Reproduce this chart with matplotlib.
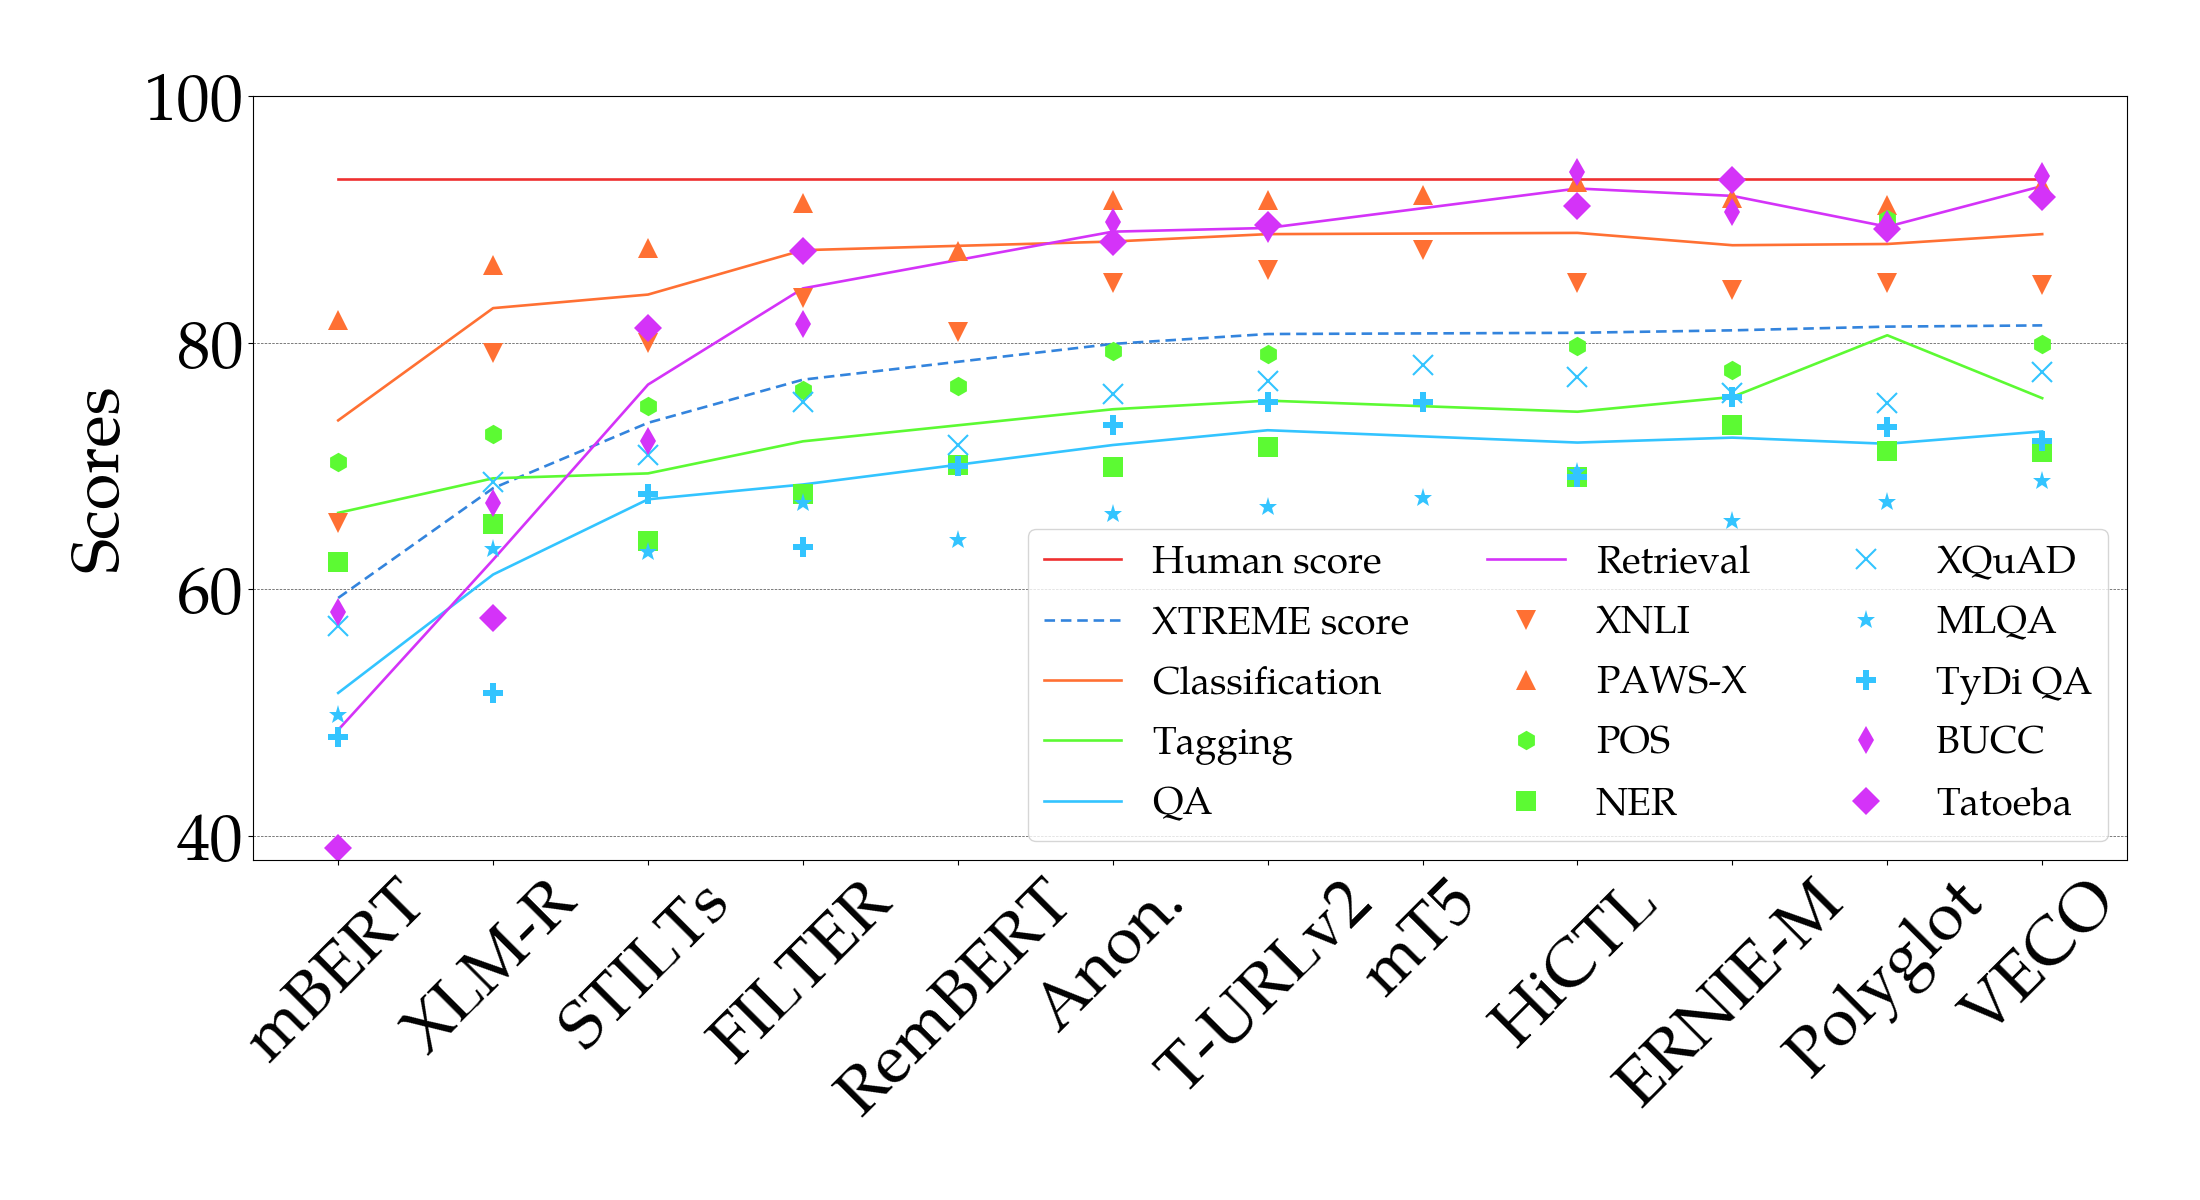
import numpy as np
import matplotlib
matplotlib.use("Agg")
import matplotlib.pyplot as plt
from matplotlib import font_manager

models = ["mBERT", "XLM-R", "STILTs", "FILTER", "RemBERT", "Anon.",
          "T-URLv2", "mT5", "HiCTL", "ERNIE-M", "Polyglot", "VECO"]
nan = np.nan

human_score = 93.3

# category scores (RemBERT and mT5 have no category averages)
xtreme = [59.3, 68.2, 73.5, 77.0, nan, 79.9, 80.7, nan, 80.8, 81.0, 81.3, 81.4]
classification = [73.7, 82.8, 83.9, 87.5, nan, 88.2, 88.8, nan, 88.9, 87.9, 88.0, 88.8]
tagging = [66.2, 69.0, 69.4, 72.0, nan, 74.6, 75.3, nan, 74.4, 75.6, 80.6, 75.5]
qa = [51.6, 61.2, 67.3, 68.5, nan, 71.7, 72.9, nan, 71.9, 72.3, 71.8, 72.8]
retrieval = [48.6, 62.4, 76.6, 84.4, nan, 89.0, 89.3, nan, 92.5, 91.9, 89.4, 92.7]

# task scores
xnli = [65.4, 79.2, 80.0, 83.6, 80.9, 84.8, 85.9, 87.5, 84.8, 84.3, 84.8, 84.7]
pawsx = [81.8, 86.3, 87.7, 91.3, 87.4, 91.6, 91.6, 92.0, 93.0, 91.7, 91.2, 92.8]
pos = [70.3, 72.6, 74.9, 76.2, 76.5, 79.3, 79.1, nan, 79.7, 77.8, 90.0, 79.9]
ner = [62.2, 65.3, 63.9, 67.7, 70.1, 69.9, 71.5, nan, 69.1, 73.3, 71.2, 71.1]
xquad = [57.0, 68.7, 70.9, 75.2, 71.7, 75.8, 76.9, 78.2, 77.2, 75.9, 75.1, 77.6]
mlqa = [49.8, 63.3, 63.0, 67.0, 64.0, 66.1, 66.7, 67.4, 69.5, 65.5, 67.1, 68.8]
tydiqa = [48.0, 51.6, 67.7, 63.4, 70.0, 73.3, 75.2, 75.2, 69.1, 75.6, 73.2, 72.0]
bucc = [58.2, 67.0, 72.0, 81.5, nan, 89.8, 89.2, nan, 93.8, 90.6, 89.6, 93.5]
tatoeba = [39.0, 57.7, 81.2, 87.4, nan, 88.2, 89.5, nan, 91.1, 93.2, 89.2, 91.8]

RED = "#ee3030"
BLUE = "#3384dd"
ORANGE = "#ff7033"
GREEN = "#5cfa33"
CYAN = "#33c4ff"
MAGENTA = "#d433f8"


def pick_serif():
    names = {f.name for f in font_manager.fontManager.ttflist}
    for name in ["TeX Gyre Pagella", "P052", "URW Palladio L", "Palatino Linotype",
                 "Palatino", "Book Antiqua", "Liberation Serif", "DejaVu Serif"]:
        if name in names:
            return name
    return "serif"


plt.rcParams["font.family"] = [pick_serif(), "DejaVu Serif"]

x = np.arange(len(models))

fig, ax = plt.subplots(figsize=(22, 12), dpi=100)
fig.subplots_adjust(left=0.115, right=0.967, bottom=0.2833, top=0.92)


def line(values, **kw):
    v = np.asarray(values, dtype=float)
    ok = ~np.isnan(v)
    ax.plot(x[ok], v[ok], lw=1.9, **kw)


ax.plot(x, np.full(len(models), human_score), color=RED, lw=1.9, label="Human score")
line(xtreme, color=BLUE, ls="--", dashes=(4, 2.2), label="XTREME score")
line(classification, color=ORANGE, label="Classification")
line(tagging, color=GREEN, label="Tagging")
line(qa, color=CYAN, label="QA")
line(retrieval, color=MAGENTA, label="Retrieval")

ms = 14
for vals, mk, col, lab in [
    (xnli, "v", ORANGE, "XNLI"),
    (pawsx, "^", ORANGE, "PAWS-X"),
    (pos, "h", GREEN, "POS"),
    (ner, "s", GREEN, "NER"),
    (xquad, "x", CYAN, "XQuAD"),
    (mlqa, "*", CYAN, "MLQA"),
    (tydiqa, "P", CYAN, "TyDi QA"),
    (bucc, "d", MAGENTA, "BUCC"),
    (tatoeba, "D", MAGENTA, "Tatoeba"),
]:
    ax.plot(x, vals, ls="none", marker=mk, color=col, ms=ms,
            mew=1.5 if mk == "x" else 0, label=lab)

ax.set_ylim(38.05, 100)
ax.set_yticks([40, 60, 80, 100])
ax.yaxis.grid(True, ls=(0, (3, 1.5)), lw=0.6, color="0.4")
ax.set_axisbelow(True)
ax.set_xticks(x)
ax.set_xticklabels(models, rotation=45, ha="center")
ax.tick_params(axis="both", labelsize=48)
ax.set_ylabel("Scores", fontsize=48, labelpad=5)

ax.legend(loc="lower right", ncol=3, fontsize=27.9, labelspacing=0.55)

fig.savefig("out.png", dpi=100)
